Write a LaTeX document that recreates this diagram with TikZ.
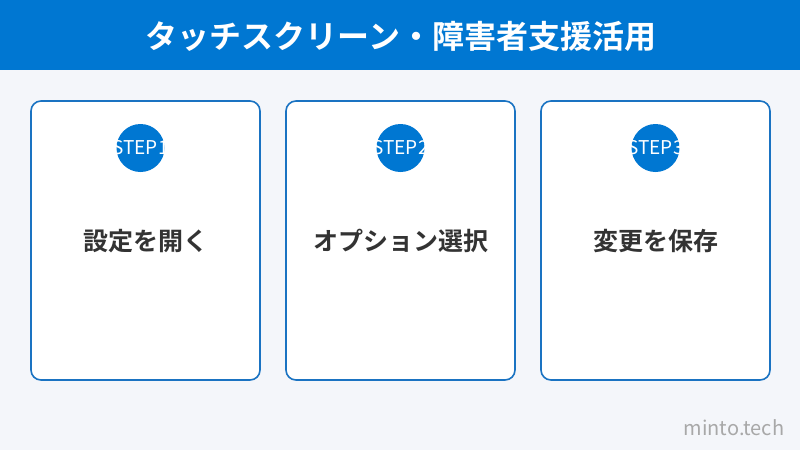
\documentclass[tikz,border=0pt]{standalone}
\usepackage{fontspec}
\setmainfont{Noto Sans CJK JP}
\newfontfamily\jpbold{Noto Sans CJK JP Bold}
\definecolor{barblue}{HTML}{0077D2}
\definecolor{cardline}{HTML}{1A73C2}
\definecolor{bggray}{HTML}{F4F6FA}
\definecolor{labelgray}{HTML}{333333}
\definecolor{markgray}{HTML}{A8A8A8}
\tikzset{
  card/.style={draw=cardline, line width=1.6pt, fill=white, rounded corners=10pt},
  stepdot/.style={circle, fill=barblue, minimum size=48pt, inner sep=0pt},
  steptext/.style={text=white, font=\fontsize{19}{20}\selectfont},
  cardlabel/.style={text=labelgray, font=\jpbold\fontsize{25}{27}\selectfont}
}
\begin{document}
\begin{tikzpicture}[x=1pt,y=-1pt]
  \useasboundingbox (0,0) rectangle (800,450);
  \fill[bggray] (0,0) rectangle (800,450);
  \fill[barblue] (0,0) rectangle (800,70);
  \node[text=white, font=\jpbold\fontsize{32}{34}\selectfont] (title) at (401,36) {タッチスクリーン・障害者支援活用};
  % cards
  \draw[card] (31,101) rectangle (260,380);
  \draw[card] (286,101) rectangle (515,380);
  \draw[card] (541,101) rectangle (770,380);
  % step badges
  \node[stepdot] (dot1) at (140.5,148) {};
  \node[stepdot] (dot2) at (400.5,148) {};
  \node[stepdot] (dot3) at (655.5,148) {};
  \node[steptext] (step1) at (dot1) {STEP1};
  \node[steptext] (step2) at (dot2) {STEP2};
  \node[steptext] (step3) at (dot3) {STEP3};
  % labels
  \node[cardlabel] (open) at (145.5,241) {設定を開く};
  \node[cardlabel] (option) at (400.5,241) {オプション選択};
  \node[cardlabel] (save) at (655.5,241) {変更を保存};
  \node[text=markgray, font=\fontsize{20}{22}\selectfont] (mark) at (734,428) {minto.tech};
\end{tikzpicture}
\end{document}
